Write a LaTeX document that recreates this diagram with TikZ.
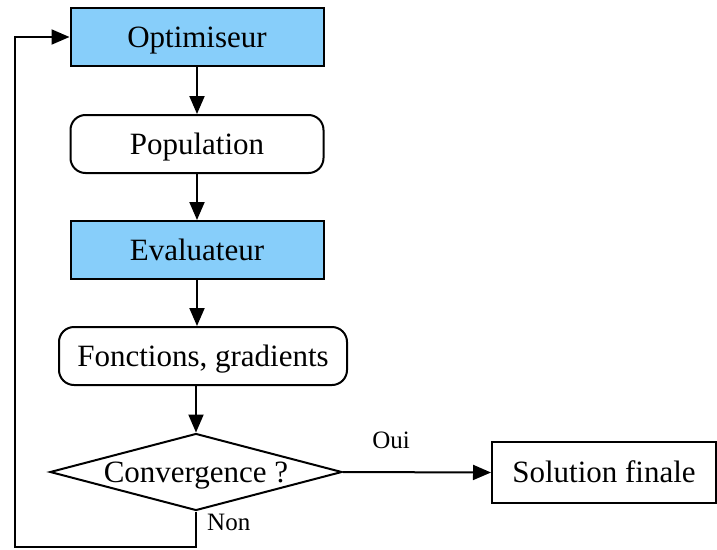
\documentclass[tikz,border=0pt]{standalone}
\usepackage{fontspec}
\setmainfont{Liberation Serif}
\usetikzlibrary{arrows.meta,shapes.geometric}
\definecolor{boxblue}{RGB}{135,206,250}
\begin{document}
\begin{tikzpicture}[x=1pt,y=-1pt,
  every node/.style={font=\fontsize{31}{36}\selectfont, inner sep=0pt},
  label text/.style={text height=24pt, text depth=4pt},
  procbox/.style={label text, draw, line width=2pt, fill=boxblue, minimum width=253pt, minimum height=58pt},
  databox/.style={label text, draw, line width=2pt, rounded corners=15pt, minimum height=58pt},
  decision/.style={label text, draw, line width=2pt, diamond, aspect=3.8, minimum width=292pt, minimum height=77pt},
  endbox/.style={label text, draw, line width=2pt, minimum width=224pt, minimum height=61pt},
  small/.style={font=\fontsize{25}{30}\selectfont},
  flow/.style={line width=2pt, -{Triangle[length=18pt,width=15pt]}}
]
\useasboundingbox (0,0) rectangle (717,549);

\node[procbox] (opt) at (197,37) {Optimiseur};
\node[databox, minimum width=253pt] (pop) at (197,144) {Population};
\node[procbox] (eval) at (197,250) {Evaluateur};
\node[databox, minimum width=288pt] (fon) at (203,356) {Fonctions, gradients};
\node[decision] (conv) at (196,472) {Convergence ?};
\node[endbox] (sol) at (604,472.5) {Solution finale};

\node[small] (oui) at (391,440) {Oui};
\node[small, anchor=west] (non) at (207,522) {Non};

\coordinate (bot) at (196,547);
\coordinate (botleft) at (15,547);
\coordinate (topleft) at (15,37);

\draw[flow] (opt.south -| pop.north) -- (pop.north);
\draw[flow] (pop) -- (eval);
\draw[flow] (eval.south) -- (eval.south |- fon.north);
\draw[flow] (conv.north |- fon.south) -- (conv.north);
\draw[flow] (conv.east) -- (sol.west);
\draw[flow] (conv.south) -- (bot) -- (botleft) -- (topleft) -- (opt.west);
\end{tikzpicture}
\end{document}
